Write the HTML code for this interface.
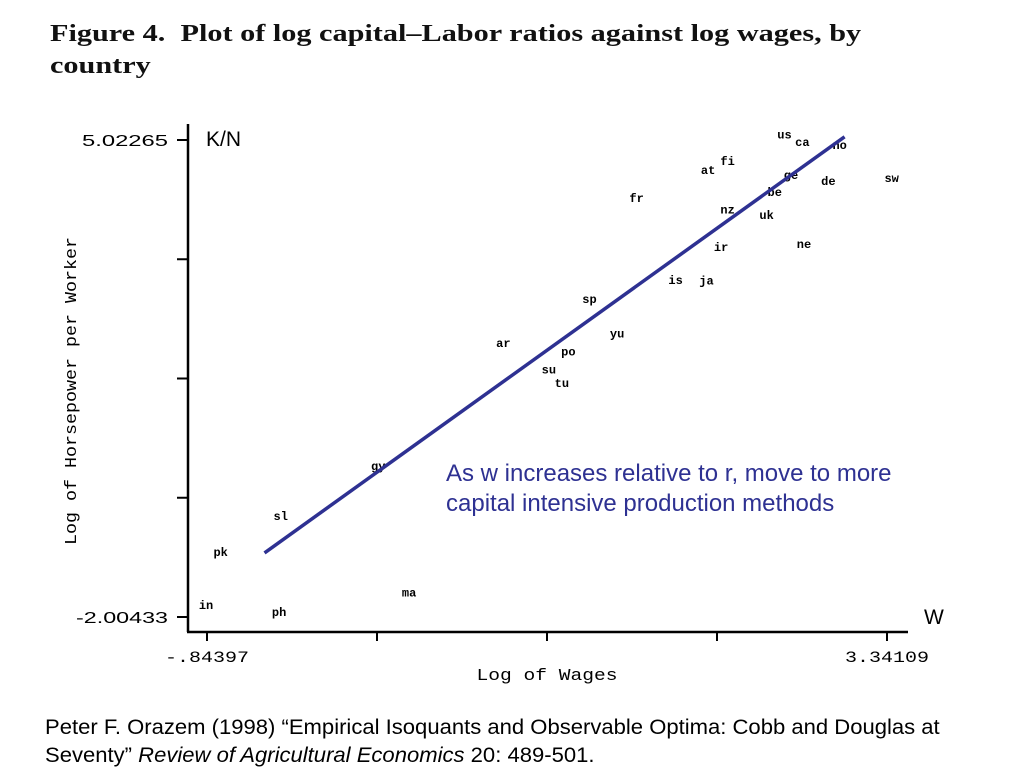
<!DOCTYPE html>
<html><head><meta charset="utf-8"><style>
body{margin:0;width:1024px;height:768px;background:#fff;overflow:hidden;position:relative;font-family:"Liberation Sans",sans-serif}
.t{position:absolute;white-space:nowrap}
</style></head><body>
<div class="t" style="left:50px;top:18px;font:bold 24px/32px 'Liberation Serif',serif;color:#111;transform:scaleX(1.26);transform-origin:0 0">Figure 4.&nbsp; Plot of log capital–Labor ratios against log wages, by<br>country</div>
<svg id="chart" width="1024" height="700" style="position:absolute;left:0;top:0">
<g id="axes"></g><g id="pts"></g><g id="fit"></g>
</svg>
<div class="t" style="left:206px;top:128px;font-size:21px">K/N</div>
<div class="t" style="left:924px;top:606px;font-size:21px">W</div>
<div class="t" style="left:446px;top:459px;font-size:24px;line-height:30px;color:#2e3192;transform:scaleX(1.0);transform-origin:0 0">As w increases relative to r, move to more<br>capital intensive production methods</div>
<div class="t" style="left:45px;top:714px;font-size:21px;line-height:28px;color:#000;transform:scaleX(1.05);transform-origin:0 0">Peter F. Orazem (1998) “Empirical Isoquants and Observable Optima: Cobb and Douglas at<br>Seventy” <i>Review of Agricultural Economics</i> 20: 489-501.</div>
<script>
const countries=["in","ph","pk","sl","gy","ma","ar","su","tu","po","sp","yu","is","ja","fr","at","fi","nz","ir","uk","ne","be","ge","de","sw","us","ca","no"];
const logWages=[-0.85,-0.40,-0.76,-0.39,0.21,0.40,0.98,1.26,1.34,1.38,1.51,1.68,2.04,2.23,1.80,2.24,2.36,2.36,2.32,2.60,2.83,2.65,2.75,2.98,3.37,2.71,2.82,3.05];
const logHP=[-1.83,-1.93,-1.05,-0.52,0.22,-1.64,2.03,1.64,1.44,1.91,2.68,2.17,2.96,2.95,4.17,4.58,4.71,4.00,3.45,3.92,3.49,4.26,4.51,4.42,4.46,5.10,4.99,4.95];
const fitX=[-0.49,3.08];
const fitY=[-1.06,5.07];
const xTicks=["-.84397","","","","3.34109"];
const yTicks=["5.02265","","","","-2.00433"];
const xMin=-0.84397,xMax=3.34109,yMin=-2.00433,yMax=5.02265;
const sx=v=>207+(v-xMin)/(xMax-xMin)*680;
const sy=v=>617-(v-yMin)/(yMax-yMin)*477;
const NS="http://www.w3.org/2000/svg";
function mk(tag,parent,attrs){const e=document.createElementNS(NS,tag);for(const k in attrs)e.setAttribute(k,attrs[k]);parent.appendChild(e);return e;}
const axes=document.getElementById('axes');
let e=mk('line',axes,{x1:188,y1:124,x2:188,y2:632,stroke:'#000','stroke-width':2.5});


e=mk('line',axes,{x1:187,y1:632,x2:908,y2:632,stroke:'#000','stroke-width':2.5});


xTicks.forEach((lab,i)=>{const x=sx(xMin+i*(xMax-xMin)/4);
 const t=mk('line',axes,{x1:x,y1:632,x2:x,y2:641,stroke:'#000','stroke-width':2});
 
 
 if(lab){const tx=mk('text',axes,{x:x,y:662,'text-anchor':'middle','font-family':'Liberation Mono, monospace','font-size':16,textLength:84,lengthAdjust:'spacingAndGlyphs'});tx.textContent=lab;
 
 }
});
yTicks.forEach((lab,i)=>{const y=sy(yMax-i*(yMax-yMin)/4);
 const t=mk('line',axes,{x1:177,y1:y,x2:188,y2:y,stroke:'#000','stroke-width':2});
 
 
 if(lab){const tx=mk('text',axes,{x:168,y:y+6,'text-anchor':'end','font-family':'Liberation Sans, sans-serif','font-size':16,textLength:lab.length>7?92:86,lengthAdjust:'spacingAndGlyphs'});tx.textContent=lab;
 
 }
});
e=mk('text',axes,{x:547,y:680,'text-anchor':'middle','font-family':'Liberation Mono, monospace','font-size':17,textLength:141,lengthAdjust:'spacingAndGlyphs'});
e.textContent='Log of Wages';


e=mk('text',axes,{x:0,y:0,'text-anchor':'middle','font-family':'Liberation Mono, monospace','font-size':17,textLength:308,lengthAdjust:'spacingAndGlyphs',transform:'translate(76,391) rotate(-90)'});
e.textContent='Log of Horsepower per Worker';


const pts=document.getElementById('pts');
countries.forEach((c,i)=>{const t=mk('text',pts,{x:sx(logWages[i]),y:sy(logHP[i])+4,'text-anchor':'middle','font-family':'Liberation Mono, monospace','font-size':12,'font-weight':'bold'});
 t.textContent=c;
 
 
});
e=mk('line',document.getElementById('fit'),{x1:sx(fitX[0]),y1:sy(fitY[0]),x2:sx(fitX[1]),y2:sy(fitY[1]),stroke:'#2e3192','stroke-width':3.5});


</script>
</body></html>
